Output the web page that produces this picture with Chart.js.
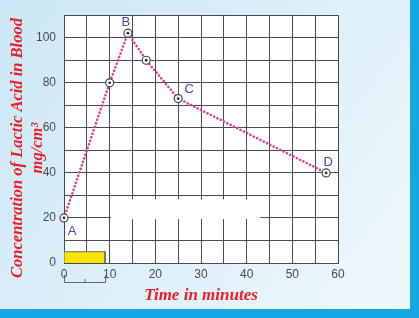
<!DOCTYPE html>
<html>
<head>
<meta charset="utf-8">
<script src="https://cdn.jsdelivr.net/npm/chart.js@4"></script>
<style>
  html, body { margin: 0; padding: 0; }
  #wrap { width: 419px; height: 318px; }
</style>
</head>
<body>
<div id="wrap"><canvas id="myChart" width="419" height="318"></canvas></div>
<script>
// values
var timeMin = [0, 10, 14, 18, 25, 57.4];
var lactic = [20, 80, 102, 90, 73, 40];
var pointNames = ["A", "", "B", "", "C", "D"];
var boxX = [0, 0, 9, 9];
var boxY = [0, 5, 5, 0];
var xTicks = [0, 10, 20, 30, 40, 50, 60];
var yTicks = [0, 20, 40, 60, 80, 100];

var pts = timeMin.map(function (t, i) { return { x: t, y: lactic[i] } });
var box = boxX.map(function (t, i) { return { x: t, y: boxY[i] } });

var extras = {
  id: 'extras',
  beforeDraw: function (chart) {
    var c = chart.ctx, w = chart.width, h = chart.height;
    var g = c.createLinearGradient(0, 0, w, h);
    g.addColorStop(0, '#cbe7f5');
    g.addColorStop(1, '#f0f8fd');
    c.save();
    c.fillStyle = g;
    c.fillRect(0, 0, w, h);
    c.fillStyle = '#15a7e1';
    c.fillRect(410, 0, 9, h);
    c.fillRect(0, 309, w, 9);
    c.fillStyle = '#ffffff';
    var a = chart.chartArea;
    c.fillRect(a.left, a.top, a.right - a.left, a.bottom - a.top);
    c.restore();
  },
  beforeDatasetsDraw: function (chart) {
    var c = chart.ctx, xs = chart.scales.x, ys = chart.scales.y;
    c.save();
    c.fillStyle = '#ffffff';
    var x1 = xs.getPixelForValue(10), x2 = xs.getPixelForValue(42.8);
    var y1 = ys.getPixelForValue(28.3), y2 = ys.getPixelForValue(19.5);
    c.fillRect(x1 + 1, y1, x2 - x1, y2 - y1);
    // bracket under the axis
    var b0 = xs.getPixelForValue(0), b1 = xs.getPixelForValue(9), bm = xs.getPixelForValue(4.5);
    var by = ys.getPixelForValue(0) + 19;
    c.strokeStyle = '#666';
    c.lineWidth = 1;
    c.beginPath();
    c.moveTo(b0 + 0.5, by - 7); c.lineTo(b0 + 0.5, by + 0.5);
    c.lineTo(b1 + 0.5, by + 0.5); c.lineTo(b1 + 0.5, by - 7);
    c.moveTo(bm + 0.5, by); c.lineTo(bm + 0.5, by - 3);
    c.stroke();
    c.restore();
  },
  afterDatasetsDraw: function (chart) {
    var c = chart.ctx;
    var meta = chart.getDatasetMeta(1);
    c.save();
    c.fillStyle = '#333';
    meta.data.forEach(function (p) {
      c.beginPath();
      c.arc(p.x, p.y, 1.4, 0, Math.PI * 2);
      c.fill();
    });
    c.fillStyle = '#4b47a6';
    c.font = '13px "Liberation Sans", Arial, sans-serif';
    c.textAlign = 'center';
    c.textBaseline = 'middle';
    var offs = { A: [8, 13], B: [-2, -11], C: [11, -9], D: [2, -10] };
    meta.data.forEach(function (p, i) {
      var n = pointNames[i];
      if (!n) return;
      c.fillText(n, p.x + offs[n][0], p.y + offs[n][1]);
    });
    // axis titles
    c.fillStyle = '#ee1c25';
    c.font = 'italic bold 17px "Liberation Serif", "Times New Roman", serif';
    c.fillText('Time in minutes', 201, 296);
    c.font = 'italic bold 16.5px "Liberation Serif", "Times New Roman", serif';
    c.translate(18, 148);
    c.rotate(-Math.PI / 2);
    c.fillText('Concentration of Lactic Acid in Blood', 0, 0);
    c.fillText('mg/cm\u00b3', 0, 20);
    c.restore();
  }
};

new Chart(document.getElementById("myChart"), {
  type: 'line',
  data: {
    datasets: [{
      data: box,
      borderColor: '#666',
      borderWidth: 1,
      backgroundColor: '#f9e400',
      fill: 'origin',
      pointRadius: 0,
      tension: 0
    }, {
      data: pts,
      clip: false,
      borderColor: '#e0418a',
      borderWidth: 2.6,
      borderDash: [0.1, 3.6],
      borderCapStyle: 'round',
      fill: false,
      tension: 0,
      pointRadius: 4,
      pointBorderWidth: 1.2,
      pointBorderColor: '#444',
      pointBackgroundColor: '#ffffff'
    }]
  },
  options: {
    responsive: false,
    animation: false,
    layout: { padding: { left: 0, top: 13, right: 81, bottom: 0 } },
    plugins: { legend: { display: false }, tooltip: { enabled: false } },
    scales: {
      x: {
        type: 'linear', min: 0, max: 60,
        afterFit: function (s) { s.height = 55 },
        ticks: {
          stepSize: 5, padding: 4, color: '#4a4a4a', maxRotation: 0,
          font: { family: '"Liberation Sans", Arial, sans-serif', size: 12 },
          callback: function (v) { return xTicks.indexOf(v) >= 0 ? v : '' }
        },
        grid: { color: '#4a4a4a', lineWidth: 1, drawTicks: false },
        border: { color: '#4a4a4a' }
      },
      y: {
        min: 0, max: 110,
        afterFit: function (s) { s.width = 64 },
        ticks: {
          stepSize: 10, padding: 8, color: '#4a4a4a',
          font: { family: '"Liberation Sans", Arial, sans-serif', size: 12 },
          callback: function (v) { return yTicks.indexOf(v) >= 0 ? v : '' }
        },
        grid: { color: '#4a4a4a', lineWidth: 1, drawTicks: false },
        border: { color: '#4a4a4a' }
      }
    }
  },
  plugins: [extras]
});
</script>
</body>
</html>
